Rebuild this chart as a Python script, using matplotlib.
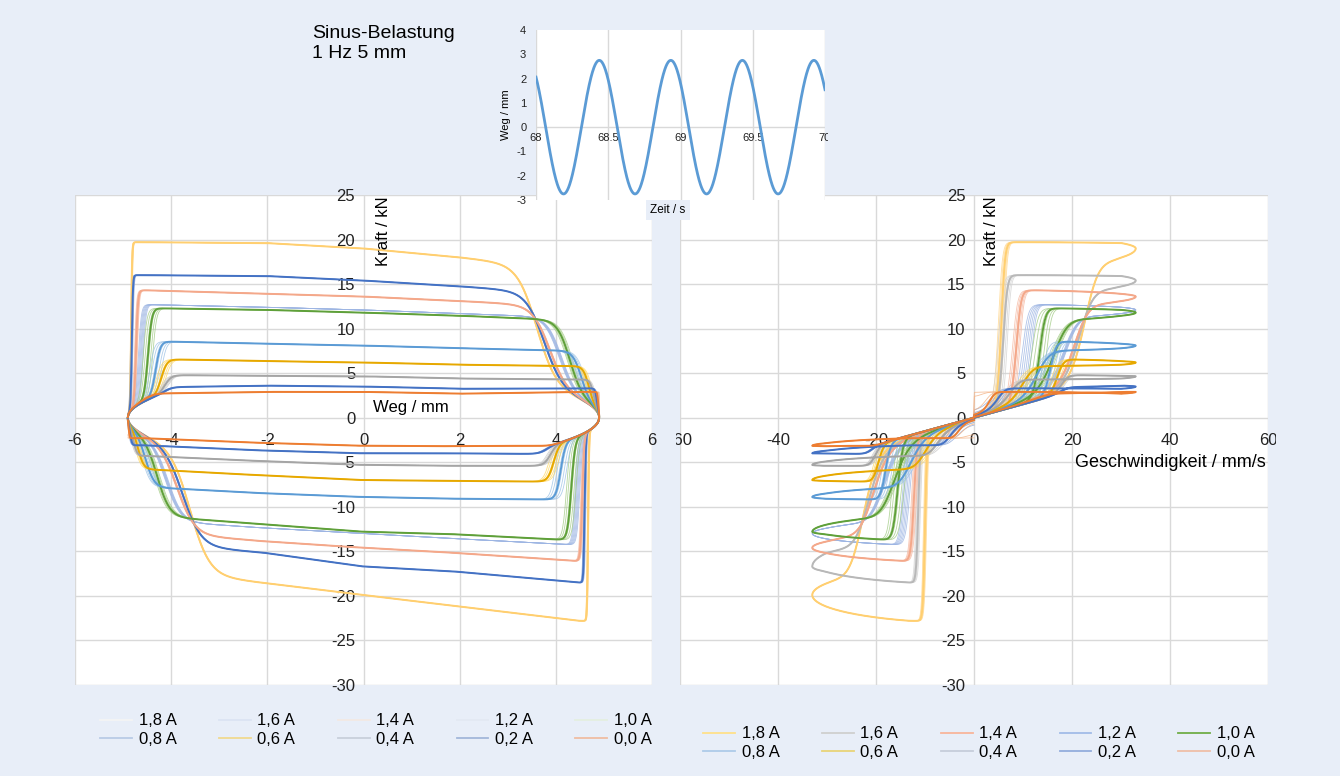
import numpy as np
import matplotlib.pyplot as plt
from matplotlib.lines import Line2D
from matplotlib.patches import Rectangle

plt.rcParams["font.family"] = ["Liberation Sans", "DejaVu Sans"]
plt.rcParams["axes.unicode_minus"] = False

BG = "#e8eef8"
GRID = "#d9d9d9"

CURRENTS = ["1,8 A", "1,6 A", "1,4 A", "1,2 A", "1,0 A",
            "0,8 A", "0,6 A", "0,4 A", "0,2 A", "0,0 A"]

X_READ = [-4.5, -2.0, 0.0, 2.0, 4.5]
UPPER_FORCE = [
    [19.7, 19.6, 19.0, 18.0, 16.5],
    [16.0, 15.9, 15.4, 14.75, 13.8],
    [14.3, 13.9, 13.6, 13.1, 12.4],
    [12.7, 12.4, 12.1, 11.7, 11.2],
    [12.3, 12.1, 11.8, 11.45, 10.9],
    [8.6, 8.3, 8.1, 7.8, 7.5],
    [6.6, 6.35, 6.2, 5.95, 5.8],
    [4.8, 4.7, 4.65, 4.4, 4.3],
    [3.4, 3.6, 3.5, 3.25, 3.3],
    [2.7, 2.9, 2.9, 2.7, 2.9],
]
LOWER_FORCE = [
    [-17.0, -18.6, -19.9, -21.2, -22.8],
    [-14.0, -15.2, -16.7, -17.3, -18.5],
    [-12.8, -13.9, -14.6, -15.2, -16.1],
    [-11.5, -12.4, -13.0, -13.6, -14.3],
    [-11.0, -12.0, -12.8, -13.1, -13.8],
    [-7.8, -8.5, -8.9, -9.1, -9.2],
    [-5.8, -6.5, -7.0, -7.1, -7.2],
    [-4.3, -4.9, -5.3, -5.4, -5.4],
    [-3.1, -3.7, -4.0, -4.0, -4.1],
    [-2.3, -2.85, -3.15, -3.2, -3.1],
]
# distance from the reversal point (mm) where the force has built up
RISE_UP = [0.07, 0.08, 0.17, 0.27, 0.42, 0.58, 0.70, 0.78, 0.80, 0.45]
RISE_LO = [0.23, 0.30, 0.35, 0.45, 0.58, 0.80, 0.95, 1.02, 1.12, 1.00]
RISE_W = [0.01, 0.012, 0.02, 0.03, 0.04, 0.05, 0.06, 0.07, 0.09, 0.12]
RISE_FAN = [0.03, 0.05, 0.06, 0.10, 0.20, 0.25, 0.20, 0.15, 0.10, 0.20]
# distance before the next reversal (mm) where the force has dropped by half
OFF_D = [1.3, 1.15, 1.04, 0.82, 0.62, 0.38, 0.22, 0.12, 0.05, 0.02]
OFF_W = [0.2, 0.19, 0.18, 0.15, 0.13, 0.09, 0.06, 0.04, 0.02, 0.01]

STROKE = 4.9      # mm
V_PEAK = 33.0     # mm/s
K_VISC = 0.15     # kN per mm/s
CYCLE_SHIFTS = [-0.5, -0.3, -0.1, 0.1, 0.3, 0.5]

THIN_LEFT = ["#ffd68a", "#8faadc", "#f6b9a2", "#9db5e3", "#a3cc86",
             "#9dc3e6", "#ffd966", "#c9c9c9", "#8eaadb", "#f4b183"]
THICK_LEFT = ["#ffcf70", "#4472c4", "#f4a88a", None, "#5fa03a",
              "#5b9bd5", "#e6a800", "#a5a5a5", "#4472c4", "#ed7d31"]
THIN_RIGHT = ["#ffd68a", "#d3d3d3", "#f6b9a2", "#9db5e3", "#a3cc86",
              "#9dc3e6", "#ffd966", "#c9c9c9", "#8eaadb", "#f4b183"]
THICK_RIGHT = ["#ffcf70", "#b8b8b8", "#f4a88a", None, "#5fa03a",
               "#5b9bd5", "#e6a800", "#a5a5a5", "#4472c4", "#ed7d31"]
LEG_LEFT = ["#f4f4f4", "#dbe4f3", "#f3e9e4", "#e3e9f3", "#e4eee0",
            "#b9cbe6", "#f0d98f", "#c8cfdb", "#a3b7da", "#efbda2"]
LEG_RIGHT = ["#ffe08a", "#cfcfcf", "#f8b59a", "#a2bce8", "#70ad47",
             "#aecbe9", "#e9d478", "#c6cddb", "#93addd", "#efbfa8"]

# inset: sinusoidal displacement
T_START, T_END = 68.0, 70.0
SINE_AMP = 2.75
SINE_FREQ = 2.02
SINE_PEAK = 68.438


def logistic(z):
    return 1.0 / (1.0 + np.exp(np.clip(z, -60, 60)))


def cycle(i, shift):
    theta = np.linspace(0, 2 * np.pi, 1400)
    x = -STROKE * np.cos(theta)
    v = V_PEAK * np.sin(theta)
    up = theta <= np.pi
    plateau = np.where(up, np.interp(x, X_READ, UPPER_FORCE[i]),
                       np.interp(x, X_READ, LOWER_FORCE[i]))
    d_start = np.where(up, x + STROKE, STROKE - x)
    d_end = 2 * STROKE - d_start
    rise = np.where(up, RISE_UP[i], RISE_LO[i]) + shift * RISE_FAN[i]
    s_rise = logistic(-(d_start - rise) / RISE_W[i])
    off = OFF_D[i] + shift * RISE_FAN[i] * 0.6
    s_off = logistic(-(d_end - off) / OFF_W[i])
    base = K_VISC * v
    f = base + (plateau - base) * s_rise * s_off
    return x, v, f


fig = plt.figure(figsize=(13.4, 7.76), dpi=100, facecolor=BG)
W, H = 1340.0, 776.0


def px_axes(x0, y0, x1, y1):
    return fig.add_axes([x0 / W, 1 - y1 / H, (x1 - x0) / W, (y1 - y0) / H])


axL = px_axes(75, 195, 652, 685)
axR = px_axes(680, 195, 1268, 685)

for ax, xlim, xticks in [(axL, (-6, 6), np.arange(-6, 7, 2)),
                         (axR, (-60, 60), np.arange(-60, 61, 20))]:
    ax.set_facecolor("white")
    ax.set_xlim(*xlim)
    ax.set_ylim(-30, 25)
    ax.set_xticks(xticks)
    ax.set_yticks(np.arange(-30, 26, 5))
    ax.grid(True, color=GRID, lw=1)
    ax.set_axisbelow(True)
    for s in ["top", "right"]:
        ax.spines[s].set_visible(False)
    ax.spines["left"].set_position(("data", 0))
    ax.spines["bottom"].set_position(("data", 0))
    ax.spines["left"].set_color("none")
    ax.spines["bottom"].set_color("none")
    ax.tick_params(length=0, labelsize=12, colors="#222222")
    ax.tick_params(axis="x", pad=11)
    ax.tick_params(axis="y", pad=6)

for i in range(len(CURRENTS)):
    for s in CYCLE_SHIFTS:
        x, v, f = cycle(i, s)
        axL.plot(x, f, color=THIN_LEFT[i], lw=0.6, alpha=0.8, zorder=2)
        axR.plot(v, f, color=THIN_RIGHT[i], lw=0.6, alpha=0.8, zorder=2)
for i in range(len(CURRENTS)):
    x, v, f = cycle(i, 0.0)
    if THICK_LEFT[i]:
        axL.plot(x, f, color=THICK_LEFT[i], lw=1.4, zorder=3)
    if THICK_RIGHT[i]:
        axR.plot(v, f, color=THICK_RIGHT[i], lw=1.4, zorder=3)

axL.text(0.25, 24.8, "Kraft / kN", rotation=90, ha="left", va="top", fontsize=12)
axL.text(0.2, 0.3, "Weg / mm", ha="left", va="bottom", fontsize=12)
axR.text(2.0, 24.8, "Kraft / kN", rotation=90, ha="left", va="top", fontsize=12)
axR.text(59.5, -5.0, "Geschwindigkeit / mm/s", ha="right", va="center", fontsize=13)

# the "-" of -60 is hidden behind the chart edge in the original
clip = Rectangle((676 / W, 0), 600 / W, 1, transform=fig.transFigure)
for lab in axR.get_xticklabels():
    lab.set_clip_path(clip)

# legends (matplotlib fills columns first, so interleave the two rows)
order = [0, 5, 1, 6, 2, 7, 3, 8, 4, 9]
leg_kw = dict(ncol=5, frameon=False, fontsize=12, handlelength=1.9,
              handletextpad=0.4, columnspacing=2.55, labelspacing=0.2)
hL = [Line2D([], [], color=LEG_LEFT[i], lw=1.3) for i in order]
hR = [Line2D([], [], color=LEG_RIGHT[i], lw=1.3) for i in order]
labs = [CURRENTS[i] for i in order]
fig.legend(hL, labs, loc="center", bbox_to_anchor=(376 / W, 1 - 730 / H), **leg_kw)
fig.legend(hR, labs, loc="center", bbox_to_anchor=(979 / W, 1 - 743 / H), **leg_kw)

# inset with the sine excitation
axI = px_axes(536, 30, 825, 200)
axI.set_facecolor("white")
t = np.linspace(T_START, T_END, 800)
axI.plot(t, SINE_AMP * np.cos(2 * np.pi * SINE_FREQ * (t - SINE_PEAK)),
         color="#5b9bd5", lw=2, zorder=3)
axI.set_xlim(T_START, T_END)
axI.set_ylim(-3, 4)
axI.set_xticks([68, 68.5, 69, 69.5, 70])
axI.set_xticklabels(["68", "68.5", "69", "69.5", "70"])
axI.set_yticks(range(-3, 5))
axI.grid(True, axis="x", color=GRID, lw=1)
axI.axhline(0, color=GRID, lw=1, zorder=1)
for s in ["top", "right", "left"]:
    axI.spines[s].set_visible(False)
axI.spines["bottom"].set_position(("data", 0))
axI.spines["bottom"].set_color("none")
axI.tick_params(length=0, labelsize=8, colors="#222222")
axI.tick_params(axis="x", pad=4)
axI.tick_params(axis="y", pad=7)
clipI = Rectangle((0, 0), 828 / W, 1, transform=fig.transFigure)
for lab in axI.get_xticklabels():
    lab.set_clip_path(clipI)
axI.set_ylabel("Weg / mm", fontsize=8, labelpad=4)
fig.text(668 / W, 1 - 210 / H, "Zeit / s", fontsize=8.5, ha="center", va="center",
         bbox=dict(facecolor=BG, edgecolor="none", pad=3))

fig.text(312 / W, 1 - 25 / H, "Sinus-Belastung\n1 Hz 5 mm", fontsize=14,
         ha="left", va="top", linespacing=1.2)

fig.savefig("out.png", dpi=100, facecolor=BG)
